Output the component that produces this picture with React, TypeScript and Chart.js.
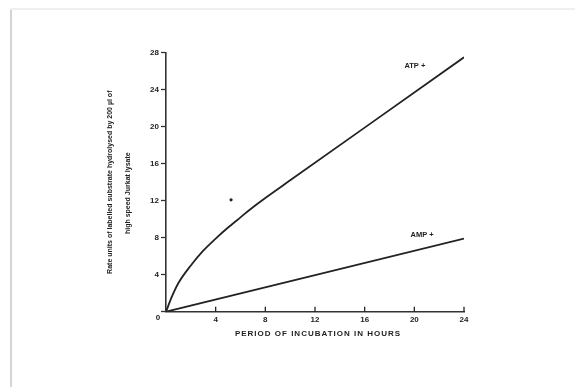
import React, { useEffect, useRef } from "react";
import { Chart, registerables } from "chart.js";

Chart.register(...registerables);

const atpHours = [0, 0.5, 1, 2, 3, 4, 5, 6, 7, 8, 10, 16, 24];
const atpValues = [0, 1.7, 3.1, 5.0, 6.6, 7.9, 9.1, 10.2, 11.3, 12.3, 14.2, 19.9, 27.5];
const ampHours = [0, 24];
const ampValues = [0, 7.9];
const strayHours = [5.24];
const strayValues = [12.1];
const xTicks = [0, 4, 8, 12, 16, 20, 24];
const yTicks = [0, 4, 8, 12, 16, 20, 24, 28];
const xTitle = "PERIOD OF INCUBATION IN HOURS";
const yTitle1 = "Rate units of labelled substrate hydrolysed by 200 \u00b5l of";
const yTitle2 = "high speed Jurkat lysate";
const seriesLabels = ["ATP +", "AMP +"];
const labelPos = [
  { x: 19.2, y: 26.6 },
  { x: 19.7, y: 8.3 },
];

const INK = "#222";

const decor = {
  id: "decor",
  beforeDraw(chart: any) {
    const ctx = chart.ctx;
    ctx.save();
    ctx.fillStyle = "#fff";
    ctx.fillRect(0, 0, chart.width, chart.height);
    ctx.fillStyle = "#d4d4d4";
    ctx.fillRect(10, 8, 2, chart.height - 8);
    ctx.fillStyle = "#efefef";
    ctx.fillRect(10, 8, chart.width - 10, 2);
    ctx.restore();
  },
  afterDraw(chart: any) {
    const ctx = chart.ctx;
    const xs = chart.scales.x;
    const ys = chart.scales.y;
    const area = chart.chartArea;
    ctx.save();
    ctx.fillStyle = INK;
    ctx.strokeStyle = INK;
    // inward x ticks
    ctx.lineWidth = 1.3;
    xTicks.forEach((t) => {
      if (t === 0) return;
      const px = xs.getPixelForValue(t);
      ctx.beginPath();
      ctx.moveTo(px, area.bottom);
      ctx.lineTo(px, area.bottom - 5);
      ctx.stroke();
    });
    // origin label
    ctx.font = 'bold 8px "Liberation Sans", Arial, sans-serif';
    ctx.textAlign = "center";
    ctx.textBaseline = "middle";
    ctx.fillText("0", area.left - 8, area.bottom + 6);
    // x title
    ctx.font = 'bold 8px "Liberation Sans", Arial, sans-serif';
    (ctx as any).letterSpacing = "1px";
    ctx.fillText(xTitle, (area.left + area.right) / 2 + 3, area.bottom + 22, 194);
    (ctx as any).letterSpacing = "0px";
    // y title
    const cy = (area.top + area.bottom) / 2;
    ctx.save();
    ctx.translate(110, cy);
    ctx.rotate(-Math.PI / 2);
    ctx.font = 'bold 7px "Liberation Sans", Arial, sans-serif';
    ctx.fillText(yTitle1, 0, 0, 207);
    ctx.restore();
    ctx.save();
    ctx.translate(128, cy + 11);
    ctx.rotate(-Math.PI / 2);
    ctx.font = 'bold 7px "Liberation Sans", Arial, sans-serif';
    ctx.fillText(yTitle2, 0, 0, 97);
    ctx.restore();
    // series labels
    ctx.font = 'bold 7.5px "Liberation Sans", Arial, sans-serif';
    ctx.textAlign = "left";
    seriesLabels.forEach((s, i) => {
      ctx.fillText(s, xs.getPixelForValue(labelPos[i].x), ys.getPixelForValue(labelPos[i].y));
    });
    ctx.restore();
  },
};

export default function App() {
  const ref = useRef<HTMLCanvasElement>(null);
  useEffect(() => {
    if (!ref.current) return;
    const chart = new Chart(ref.current, {
      type: "line",
      data: {
        datasets: [
          {
            label: "ATP",
            data: atpHours.map((h, i) => ({ x: h, y: atpValues[i] })),
            borderColor: INK,
            borderWidth: 1.8,
            pointRadius: 0,
            cubicInterpolationMode: "monotone",
            fill: false,
          },
          {
            label: "AMP",
            data: ampHours.map((h, i) => ({ x: h, y: ampValues[i] })),
            borderColor: INK,
            borderWidth: 1.8,
            pointRadius: 0,
            fill: false,
          },
          {
            label: "mark",
            data: strayHours.map((h, i) => ({ x: h, y: strayValues[i] })),
            showLine: false,
            pointRadius: 1.6,
            pointBackgroundColor: INK,
            pointBorderWidth: 0,
          },
        ],
      },
      options: {
        responsive: false,
        animation: false,
        devicePixelRatio: 1,
        layout: { padding: { left: 0, top: 52.7, right: 111, bottom: 0 } },
        plugins: { legend: { display: false }, tooltip: { enabled: false } },
        scales: {
          x: {
            type: "linear",
            min: 0,
            max: 24,
            afterBuildTicks: (s: any) => {
              s.ticks = xTicks.map((v) => ({ value: v }));
            },
            afterFit: (s: any) => {
              s.height = 387 - 311.7;
            },
            border: { color: "#333", width: 1.6 },
            grid: { drawOnChartArea: false, drawTicks: false },
            ticks: {
              padding: 3,
              color: INK,
              font: { family: '"Liberation Sans", Arial, sans-serif', size: 8, weight: "bold" },
              callback: (v: any) => (v === 0 ? "" : String(v)),
            },
          },
          y: {
            type: "linear",
            min: 0,
            max: 28,
            afterBuildTicks: (s: any) => {
              s.ticks = yTicks.map((v) => ({ value: v }));
            },
            afterFit: (s: any) => {
              s.width = 166;
            },
            border: { color: "#333", width: 1.6 },
            grid: { drawOnChartArea: false, tickLength: 5, color: "#333", tickWidth: 1.3 },
            ticks: {
              padding: 2,
              color: INK,
              font: { family: '"Liberation Sans", Arial, sans-serif', size: 8, weight: "bold" },
              callback: (v: any) => (v === 0 ? "" : String(v)),
            },
          },
        },
      },
      plugins: [decor],
    });
    return () => chart.destroy();
  }, []);
  return (
    <div style={{ position: "fixed", left: 0, top: 0, width: 575, height: 387 }}>
      <canvas ref={ref} width={575} height={387} style={{ display: "block" }} />
    </div>
  );
}
